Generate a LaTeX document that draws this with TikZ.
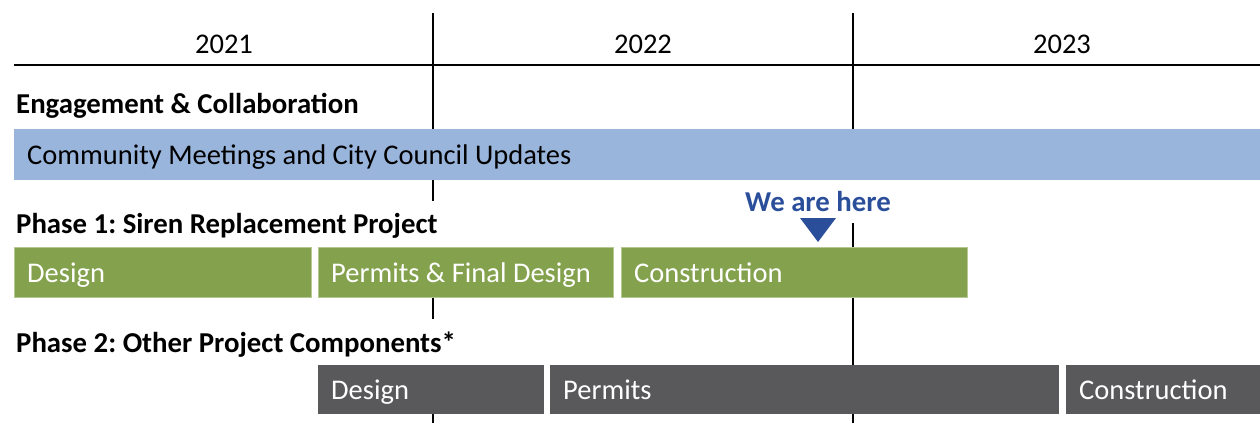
\documentclass[tikz,border=0pt]{standalone}
\usepackage{fontspec}
\setmainfont{Carlito}
\frenchspacing
\definecolor{barblue}{RGB}{154,181,220}
\definecolor{bargreen}{RGB}{132,162,78}
\definecolor{bargray}{RGB}{89,89,91}
\definecolor{markblue}{RGB}{43,78,155}
\begin{document}
\begin{tikzpicture}[x=1pt,y=-1pt,
  txt/.style={font=\fontsize{28.5}{34}\selectfont},
  grid/.style={line width=1.3pt,black},
  lbl/.style={font=\fontsize{28.8}{34}\selectfont\bfseries,anchor=base west,fill=white,inner xsep=2pt,inner ysep=12pt},
  year/.style={txt,anchor=base},
  bar/.style={anchor=north west,rectangle,inner sep=0pt},
  bartext/.style={txt,anchor=west,inner sep=0pt,text height=24pt,text depth=4pt},
  bluebar/.style={bar,fill=barblue},
  greenbar/.style={bar,fill=bargreen,draw=bargreen!60!white,line width=0.8pt,minimum height=50pt},
  graybar/.style={bar,fill=bargray,minimum height=49pt},
  marker/.style={fill=markblue,draw=none}
]
\useasboundingbox (0,0) rectangle (1260,423);
% grid lines
\coordinate (h0) at (14,65);
\coordinate (h1) at (1260,65);
\coordinate (v1t) at (433,13);
\coordinate (v1b) at (433,423);
\coordinate (v2t) at (853,13);
\coordinate (v2b) at (853,423);
\draw[grid] (h0) -- (h1);
\draw[grid] (v1t) -- (v1b);
\draw[grid] (v2t) -- (v2b);
% years
\node[year] (y21) at (224,53) {2021};
\node[year] (y22) at (643,53) {2022};
\node[year] (y23) at (1062,53) {2023};
% section labels
\node[lbl] (l0) at (14,113) {Engagement \& Collaboration};
\node[lbl] (l1) at (14,233) {Phase 1: Siren Replacement Project};
\node[lbl] (l2) at (14,352) {Phase 2: Other Project Components*};
\node[lbl,text=markblue,anchor=base] (here) at (818,211) {We are here};
% bars
\node[bluebar,minimum width=1246pt,minimum height=51pt] (b0) at (14,129) {};
\node[greenbar,minimum width=297pt] (g1) at (14,247) {};
\node[greenbar,minimum width=295pt] (g2) at (318,247) {};
\node[greenbar,minimum width=346pt] (g3) at (621,247) {};
\node[graybar,minimum width=226pt] (p1) at (318,365) {};
\node[graybar,minimum width=509pt] (p2) at (550,365) {};
\node[graybar,minimum width=194pt] (p3) at (1066,365) {};
% bar texts
\node[bartext,text=black] (t0) at ([xshift=13pt]b0.west) {Community Meetings and City Council Updates};
\node[bartext,text=white] (t1) at ([xshift=13pt]g1.west) {Design};
\node[bartext,text=white] (t2) at ([xshift=13pt]g2.west) {Permits \& Final Design};
\node[bartext,text=white] (t3) at ([xshift=13pt]g3.west) {Construction};
\node[bartext,text=white] (t4) at ([xshift=13pt]p1.west) {Design};
\node[bartext,text=white] (t5) at ([xshift=13pt]p2.west) {Permits};
\node[bartext,text=white] (t6) at ([xshift=13pt]p3.west) {Construction};
% marker
\coordinate (ta) at (800,218);
\coordinate (tb) at (836,218);
\coordinate (tc) at (818,242);
\fill[marker] (ta) -- (tb) -- (tc) -- cycle;
\end{tikzpicture}
\end{document}
